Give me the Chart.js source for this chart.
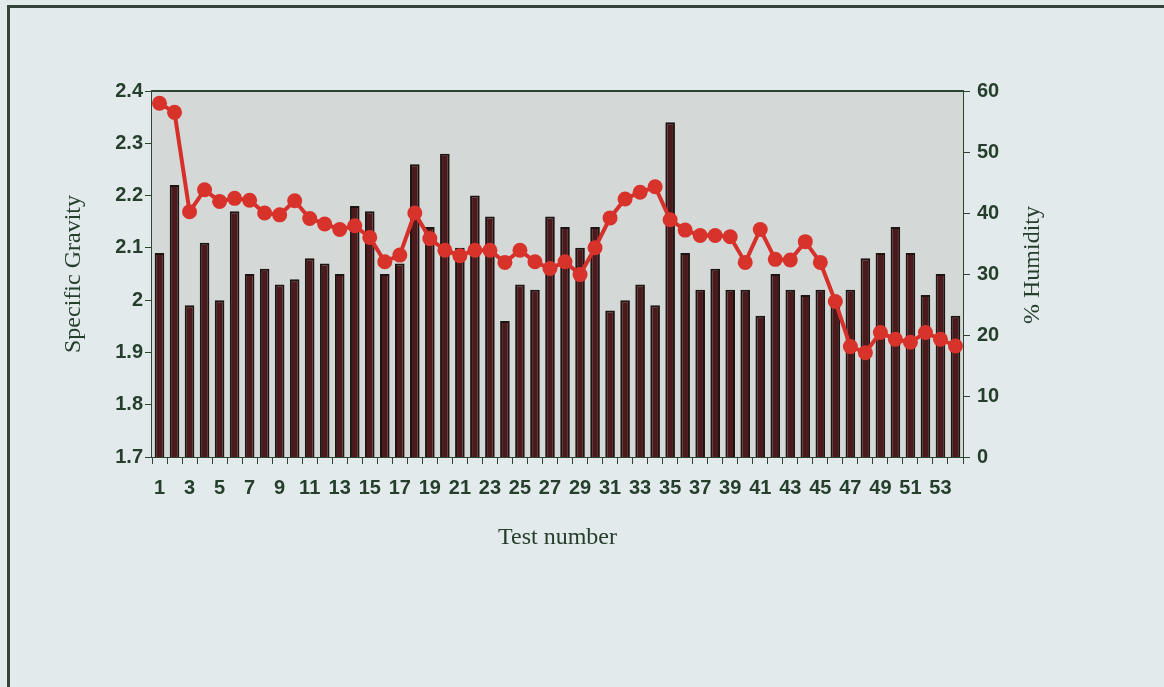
<!DOCTYPE html>
<html>
<head>
<meta charset="utf-8">
<script src="https://cdn.jsdelivr.net/npm/chart.js@4"></script>
<style>
  body { margin: 0; background: #e3eaec; overflow: hidden; }
  #moldura {
    position: absolute; left: 7px; top: 5px; width: 1300px; height: 900px;
    border: 3px solid #34443a;
  }
  #wrap { position: absolute; left: 0; top: 0; width: 1164px; height: 687px; }
</style>
</head>
<body>
<div id="moldura"></div>
<div id="wrap"><canvas id="grafico"></canvas></div>
<script>

// dados
const testes = []
for (let i = 1; i <= 54; i++) testes.push(String(i))

const densidade = [
  2.09, 2.22, 1.99, 2.11, 2.00, 2.17, 2.05, 2.06, 2.03, 2.04,
  2.08, 2.07, 2.05, 2.18, 2.17, 2.05, 2.07, 2.26, 2.14, 2.28,
  2.10, 2.20, 2.16, 1.96, 2.03, 2.02, 2.16, 2.14, 2.10, 2.14,
  1.98, 2.00, 2.03, 1.99, 2.34, 2.09, 2.02, 2.06, 2.02, 2.02,
  1.97, 2.05, 2.02, 2.01, 2.02, 1.99, 2.02, 2.08, 2.09, 2.14,
  2.09, 2.01, 2.05, 1.97
]

const umidade = [
  58.0, 56.5, 40.2, 43.8, 41.9, 42.4, 42.1, 40.0, 39.7, 42.0,
  39.1, 38.2, 37.3, 37.9, 36.0, 32.0, 33.1, 40.0, 35.8, 33.9,
  33.0, 33.9, 33.9, 31.9, 33.9, 32.0, 30.9, 32.0, 29.9, 34.3,
  39.2, 42.3, 43.4, 44.3, 38.9, 37.2, 36.3, 36.3, 36.1, 31.9,
  37.3, 32.4, 32.3, 35.3, 31.9, 25.5, 18.1, 17.1, 20.4, 19.3,
  18.8, 20.4, 19.3, 18.2
]

const corTexto = '#253f2c'
const corEixo = '#2d4433'

// fundo cinza da area do grafico + borda de cima + titulo da direita
const fundoPlot = {
  id: 'fundoPlot',
  beforeDatasetsDraw(chart) {
    const a = chart.chartArea
    const ctx = chart.ctx
    ctx.save()
    ctx.fillStyle = '#d4d8d7'
    ctx.fillRect(a.left, a.top, a.right - a.left, a.bottom - a.top)
    ctx.restore()
  },
  afterDraw(chart) {
    const a = chart.chartArea
    const ctx = chart.ctx
    ctx.save()
    ctx.strokeStyle = corEixo
    ctx.lineWidth = 2
    ctx.beginPath()
    ctx.moveTo(a.left, a.top)
    ctx.lineTo(a.right, a.top)
    ctx.stroke()
    // titulo do eixo direito, lido de baixo pra cima
    ctx.translate(a.right + 70, (a.top + a.bottom) / 2 - 9)
    ctx.rotate(-Math.PI / 2)
    ctx.fillStyle = corTexto
    ctx.font = '24px "Liberation Serif"'
    ctx.textAlign = 'center'
    ctx.textBaseline = 'middle'
    ctx.fillText('% Humidity', 0, 0)
    ctx.restore()
  }
}

const ctg = document.getElementById('grafico')

new Chart(ctg, {
  type: 'bar',
  data: {
    labels: testes,
    datasets: [
      {
        type: 'line',
        label: '% Humidity',
        data: umidade,
        yAxisID: 'y1',
        borderColor: '#d6302a',
        backgroundColor: '#d6302a',
        borderWidth: 4,
        pointRadius: 7.5,
        pointBorderWidth: 0,
        pointBackgroundColor: '#d8332b',
        tension: 0,
        order: 0
      },
      {
        label: 'Specific Gravity',
        data: densidade,
        yAxisID: 'y',
        backgroundColor: '#4c1a1d',
        borderColor: '#1d1512',
        borderWidth: 2,
        barPercentage: 0.64,
        categoryPercentage: 1,
        order: 1
      }
    ]
  },
  options: {
    responsive: true,
    maintainAspectRatio: false,
    animation: false,
    layout: {
      padding: { left: 55, right: 0, top: 91, bottom: 131 }
    },
    plugins: {
      legend: { display: false },
      tooltip: { enabled: false }
    },
    scales: {
      x: {
        afterFit: function (s) { s.height = 99 },
        grid: {
          display: true,
          drawOnChartArea: false,
          offset: true,
          tickLength: 7,
          color: corEixo
        },
        border: { display: true, color: corEixo, width: 2 },
        ticks: {
          autoSkip: false,
          maxRotation: 0,
          padding: 12,
          color: corTexto,
          font: { family: '"Liberation Sans"', size: 20, weight: 'bold' },
          callback: function (v, i) {
            return i % 2 == 0 ? testes[i] : ''
          }
        },
        title: {
          display: true,
          text: 'Test number',
          color: corTexto,
          font: { family: '"Liberation Serif"', size: 24 },
          padding: { top: 4, bottom: 4 }
        }
      },
      y: {
        position: 'left',
        min: 1.7,
        max: 2.4,
        afterFit: function (s) { s.width = 97 },
        grid: {
          drawOnChartArea: false,
          tickLength: 7,
          color: corEixo
        },
        border: { display: true, color: corEixo, width: 2 },
        ticks: {
          stepSize: 0.1,
          padding: 2,
          color: corTexto,
          font: { family: '"Liberation Sans"', size: 20, weight: 'bold' },
          callback: function (v) { return String(Number(v.toFixed(1))) }
        },
        title: {
          display: true,
          text: 'Specific Gravity',
          color: corTexto,
          font: { family: '"Liberation Serif"', size: 24 },
          padding: { top: 4, bottom: 4 }
        }
      },
      y1: {
        position: 'right',
        min: 0,
        max: 60,
        afterFit: function (s) { s.width = 201 },
        grid: {
          drawOnChartArea: false,
          tickLength: 7,
          color: corEixo
        },
        border: { display: true, color: corEixo, width: 2 },
        ticks: {
          stepSize: 10,
          padding: 7,
          color: corTexto,
          font: { family: '"Liberation Sans"', size: 20, weight: 'bold' }
        }
      }
    }
  },
  plugins: [fundoPlot]
})

</script>
</body>
</html>
